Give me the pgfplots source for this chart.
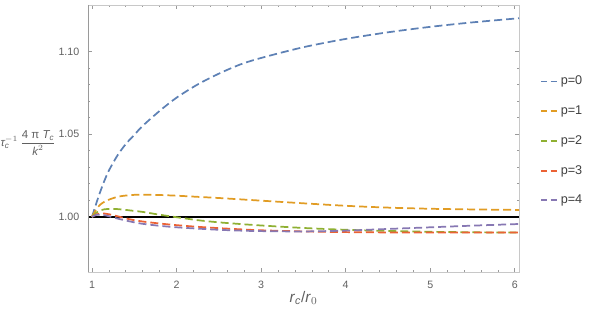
\documentclass[border=0pt]{standalone}
\usepackage{fontspec}
\setmainfont{Liberation Sans}
\usepackage{amsmath}
\usepackage{pgfplots}
\usepackage{pgfplotstable}
\pgfplotsset{compat=1.18}

\definecolor{mblue}{HTML}{5E81B5}
\definecolor{morange}{HTML}{E19C24}
\definecolor{mgreen}{HTML}{8FB032}
\definecolor{mred}{HTML}{EB6235}
\definecolor{mpurple}{HTML}{8778B3}
\definecolor{framegray}{HTML}{9A9A9A}
\definecolor{lightframe}{HTML}{C8C8C8}
\definecolor{labelgray}{HTML}{606060}

% x, p=0 ... p=4
\pgfplotstableread{
x     p0      p1      p2      p3      p4
1.00  1.0000  1.0000  1.0000  1.0000  1.0000
1.05  1.0080  1.0045  1.0025  1.0015  1.0012
1.10  1.0155  1.0075  1.0040  1.0020  1.0014
1.15  1.0222  1.0092  1.0046  1.0020  1.0010
1.20  1.0280  1.0104  1.0048  1.0016  1.0004
1.30  1.0370  1.0121  1.0047  1.0004  0.9990
1.40  1.0440  1.0129  1.0042  0.9991  0.9978
1.50  1.0495  1.0133  1.0036  0.9980  0.9967
1.60  1.0550  1.0134  1.0030  0.9972  0.9958
1.80  1.0640  1.0132  1.0013  0.9960  0.9946
2.00  1.0720  1.0128  0.9998  0.9950  0.9937
2.25  1.0800  1.0121  0.9980  0.9940  0.9929
2.50  1.0865  1.0114  0.9967  0.9932  0.9922
2.75  1.0920  1.0106  0.9957  0.9925  0.9917
3.00  1.0960  1.0098  0.9948  0.9919  0.9914
3.50  1.1025  1.0082  0.9933  0.9912  0.9912
4.00  1.1075  1.0067  0.9922  0.9908  0.9917
4.50  1.1115  1.0056  0.9915  0.9906  0.9927
5.00  1.1148  1.0049  0.9910  0.9905  0.9937
5.50  1.1175  1.0045  0.9907  0.9905  0.9947
6.05  1.1200  1.0042  0.9905  0.9905  0.9957
}\datatable

\begin{document}
\begin{tikzpicture}
\useasboundingbox (0,0) rectangle (449.25pt,243pt);
\begin{axis}[
  at={(66pt,39pt)}, anchor=south west,
  scale only axis, width=323.25pt, height=200.25pt,
  xmin=0.953, xmax=6.05, ymin=0.9667, ymax=1.128,
  xtick={1,2,3,4,5,6}, minor x tick num=4,
  ytick={1.00,1.05,1.10}, minor y tick num=4,
  yticklabel style={/pgf/number format/fixed, /pgf/number format/fixed zerofill, /pgf/number format/precision=2},
  /pgf/number format/assume math mode=true,
  tick align=inside,
  major tick length=3pt, minor tick length=1.8pt,
  every tick/.style={framegray, line width=0.5pt},
  axis line style={lightframe, line width=0.6pt},
  ticklabel style={font=\fontsize{8}{9}\selectfont, text=labelgray},
  xticklabel style={yshift=-3pt},
  yticklabel style={xshift=-3pt},
  xlabel={\textit{r}$_{\textit{c}}$/\textit{r}$_{0}$},
  xlabel style={font=\fontsize{11.5}{13}\selectfont, text=labelgray, at={(rel axis cs:0.5,0)}, anchor=center, yshift=-19.5pt},
  legend style={draw=none, fill=none, at={(rel axis cs:1.049,0.745)}, anchor=north west,
    font=\fontsize{9.5}{10}\selectfont, text=black!75, row sep=10.2pt, inner sep=0pt},
  legend cell align=left,
  legend image code/.code={\draw[#1, line width=1.3pt, dash pattern=on 4.5pt off 2.5pt] (0pt,0pt) -- (12pt,0pt);},
  every axis plot/.append style={line width=1.3pt, dash pattern=on 6pt off 3pt},
  clip=true,
]
\addplot[black, line width=1.5pt, solid, forget plot] coordinates {(0.953,1) (6.05,1)};
\addplot[mblue, smooth] table[x=x,y=p0] {\datatable};
\addplot[morange, smooth] table[x=x,y=p1] {\datatable};
\addplot[mgreen, smooth] table[x=x,y=p2] {\datatable};
\addplot[mred, smooth] table[x=x,y=p3] {\datatable};
\addplot[mpurple, smooth] table[x=x,y=p4] {\datatable};
\draw[framegray, line width=0.6pt] (rel axis cs:0,1) -- (rel axis cs:0,0) -- (rel axis cs:1,0);
\legend{p=0,p=1,p=2,p=3,p=4}
\end{axis}
\node[anchor=west, text=labelgray, font=\fontsize{8.6}{10}\selectfont, inner sep=0pt] at (0.3pt,135.5pt)
  {$\textit{τ}_{\textit{c}}^{-1}\,\dfrac{\text{4 π }\textit{T}_{\textit{c}}}{\textit{k}^{2}}$};
\end{tikzpicture}
\end{document}
